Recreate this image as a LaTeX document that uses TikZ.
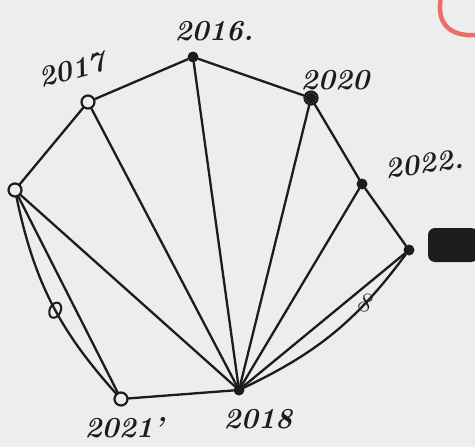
\documentclass[tikz,border=0pt]{standalone}
\usepackage{tikz}
\usepackage{xcolor}
\usetikzlibrary{positioning,shapes.geometric}
\definecolor{penblack}{HTML}{1C1C1C}
\definecolor{paper}{HTML}{EDEDED}
\definecolor{redpen}{HTML}{E8706C}
\tikzset{
  pen/.style  ={draw=penblack, line width=2.3pt, line cap=round},
  vopen/.style={circle, draw=penblack, line width=2.2pt, minimum size=13pt,
                inner sep=0pt},
  vsolid/.style={circle, fill=penblack, minimum size=11pt, inner sep=0pt},
  ring/.style ={ellipse, draw=penblack, line width=2pt, minimum width=11pt,
                minimum height=16pt, inner sep=0pt, rotate=-25},
  yr/.style   ={font=\fontsize{29}{30}\selectfont\bfseries\itshape,
                text=penblack, inner sep=1pt},
}
\begin{document}
\begin{tikzpicture}[x=1pt, y=-1pt]
\useasboundingbox (0,0) rectangle (475,447);
\fill[paper] (0,0) rectangle (475,447);

% ============================================ vertices
\node[vopen]  (vL)  at (15,190)  {};
\node[vopen]  (v17) at (88,102)  {};
\node[vsolid] (v16) at (193,57)  {};
\node[vopen]  (v20) at (311,98)  {};
\node[vsolid] at (v20) {};
\node[vsolid] (v22) at (362,184) {};
\node[vsolid] (vR)  at (409,250) {};
\node[vsolid] (v18) at (239,390) {};
\node[vopen]  (v21) at (121,399) {};

% ============================================ year labels
\node[yr, rotate=15] (l17) at (72,70)   {2017};
\node[yr]            (l16) at (214,31)  {2016.};
\node[yr]            (l20) at (335,80)  {2020};
\node[yr, rotate=8]  (l22) at (424,164) {2022.};
\node[yr]            (l21) at (124,428) {2021'};
\node[yr]            (l18) at (258,419) {2018};

% ============================================ outer cycle
\draw[pen] (vL) -- (v17) -- (v16) -- (v20) -- (v22) -- (vR);
\draw[pen] (vR) -- (v18) -- (v21) -- (vL);
% second edges of the two double pairs
\draw[pen] (vR) to[bend left=14] node[pos=0.28, font=\fontsize{28}{28}\selectfont,
  text=penblack, rotate=-25, inner sep=0pt] (m8) {8} (v18);
\draw[pen] (vL) to[bend right=15] node[pos=0.54, ring] (m0) {} (v21);

% ============================================ fan from 2018
\foreach \v in {vL, v17, v16, v20, v22}
  \draw[pen] (v18) -- (\v);

% ============================================ marks on the sheet
\draw[redpen, line width=4.5pt, line cap=round]
  (441,-3) .. controls (435,28) and (455,37) .. (478,35);
\fill[penblack, rounded corners=7pt] (428,228) rectangle (478,262);

\end{tikzpicture}
\end{document}
